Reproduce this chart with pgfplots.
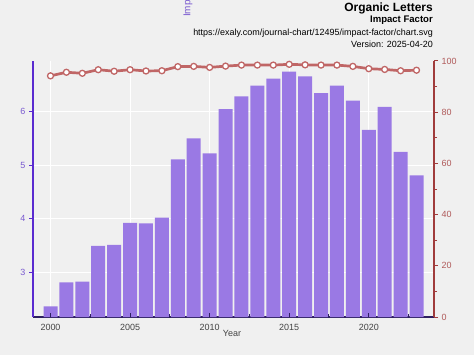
\documentclass[border=0pt]{standalone}
\usepackage{pgfplots}
\pgfplotsset{compat=1.18}
\usepackage{fontspec}
\setmainfont{Liberation Sans}
\definecolor{bg}{HTML}{F0F0F0}
\definecolor{barc}{HTML}{9A79E4}
\definecolor{leftax}{HTML}{5A2BD0}
\definecolor{leftlab}{HTML}{7A5AD0}
\definecolor{rightax}{HTML}{A03C3C}
\definecolor{rightlab}{HTML}{B05A5A}
\definecolor{linec}{HTML}{C06666}
\definecolor{botax}{HTML}{2E2060}
\definecolor{labgray}{HTML}{444444}
\begin{document}
\begin{tikzpicture}[x=1bp,y=1bp]
\fill[bg] (0,0) rectangle (474,355);
\path[use as bounding box] (0,0) rectangle (474,355);
% bars
\begin{axis}[at={(33bp,38bp)}, anchor=south west, scale only axis,
  width=401bp, height=256bp,
  xmin=1998.9, xmax=2024.1, ymin=2.16, ymax=6.95,
  axis x line*=bottom, axis y line*=left,
  x axis line style={botax, line width=1.2bp, -},
  y axis line style={leftax, line width=1.2bp, -},
  xtick={2000,2005,2010,2015,2020},
  ytick={3,4,5,6},
  tick align=outside,
  major tick length=4bp,
  xtick style={draw=none},
  ytick style={leftax, line width=1bp},
  xmajorgrids, ymajorgrids,
  grid style={white, line width=1bp},
  ticklabel style={font=\fontsize{9}{10}\selectfont},
  xticklabel style={text=labgray},
  yticklabel style={text=leftlab},
  /pgf/number format/assume math mode=true,
  xticklabel={\pgfmathprintnumber[1000 sep={}]{\tick}},
  ]
\addplot[ybar, bar width=14bp, fill=barc, draw=none] coordinates {
(2000,2.36) (2001,2.81) (2002,2.82) (2003,3.49) (2004,3.51) (2005,3.92)
(2006,3.91) (2007,4.02) (2008,5.11) (2009,5.50) (2010,5.22) (2011,6.05)
(2012,6.29) (2013,6.49) (2014,6.62) (2015,6.75) (2016,6.66) (2017,6.35)
(2018,6.49) (2019,6.21) (2020,5.66) (2021,6.09) (2022,5.25) (2023,4.81)};
\end{axis}
% x ticks inside
\begin{axis}[at={(33bp,38bp)}, anchor=south west, scale only axis,
  width=401bp, height=256bp,
  xmin=1998.9, xmax=2024.1, ymin=0, ymax=1,
  axis x line*=bottom, hide y axis,
  x axis line style={draw=none},
  xtick={2000,2005,2010,2015,2020},
  minor xtick={2002.5,2007.5,2012.5,2017.5,2022.5},
  xticklabels={},
  tick align=inside,
  major tick length=4bp, minor tick length=3bp,
  xtick style={botax, line width=1bp},
  minor x tick style={botax, line width=1bp},
  ]
\addplot[draw=none] coordinates {(2000,0.5)};
\end{axis}
% percentile line
\begin{axis}[at={(33bp,38bp)}, anchor=south west, scale only axis,
  width=401bp, height=256bp,
  xmin=1998.9, xmax=2024.1, ymin=0, ymax=100,
  axis y line*=right, axis x line=none,
  y axis line style={rightax, line width=1.2bp, -},
  ytick={0,20,40,60,80,100},
  minor ytick={10,30,50,70,90},
  tick align=outside,
  major tick length=4bp, minor tick length=3bp,
  ytick style={rightax, line width=1bp},
  minor y tick style={rightax, line width=1bp},
  yticklabel style={text=rightlab, font=\fontsize{9}{10}\selectfont},
  /pgf/number format/assume math mode=true,
  clip=false,
  ]
\addplot[linec, line width=2.7bp, mark=*, mark size=3bp,
  mark options={fill=white, draw=linec, line width=1.3bp}] coordinates {
(2000,94.2) (2001,95.6) (2002,95.2) (2003,96.6) (2004,96.0) (2005,96.6)
(2006,96.1) (2007,96.2) (2008,97.8) (2009,97.9) (2010,97.5) (2011,98.0)
(2012,98.4) (2013,98.4) (2014,98.4) (2015,98.7) (2016,98.5) (2017,98.4)
(2018,98.4) (2019,97.9) (2020,97.0) (2021,96.7) (2022,96.2) (2023,96.4)};
\end{axis}
\node[text=labgray, font=\fontsize{9}{10}\selectfont] at (232,22) {Year};
\node[overlay, rotate=90, anchor=west, inner sep=0pt, text=leftlab, font=\fontsize{10}{11}\selectfont] at (188,338) {Impact Factor};
\node[anchor=east, inner sep=0pt, font=\bfseries\fontsize{12}{14}\selectfont] at (433,347) {Organic Letters};
\node[anchor=east, inner sep=0pt, font=\bfseries\fontsize{9.6}{11}\selectfont] at (433,335) {Impact Factor};
\node[anchor=east, inner sep=0pt, font=\fontsize{9}{10}\selectfont] at (433,322) {https://exaly.com/journal-chart/12495/impact-factor/chart.svg};
\node[anchor=east, inner sep=0pt, font=\fontsize{9}{10}\selectfont] at (433,311) {Version: 2025-04-20};
\end{tikzpicture}
\end{document}
